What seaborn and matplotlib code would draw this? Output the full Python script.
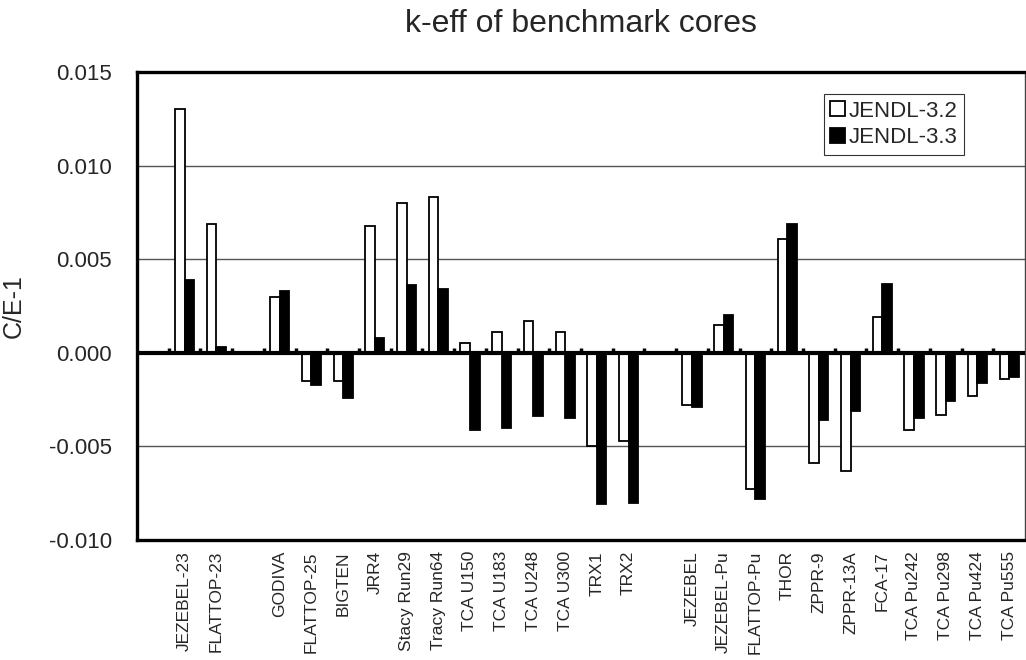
import numpy as np
import pandas as pd
import matplotlib
matplotlib.use("Agg")
import matplotlib.pyplot as plt
import seaborn as sns

# ---------------- data ----------------
group_a = ["JEZEBEL-23", "FLATTOP-23"]
group_b = ["GODIVA", "FLATTOP-25", "BIGTEN", "JRR4", "Stacy Run29", "Tracy Run64",
           "TCA U150", "TCA U183", "TCA U248", "TCA U300", "TRX1", "TRX2"]
group_c = ["JEZEBEL", "JEZEBEL-Pu", "FLATTOP-Pu", "THOR", "ZPPR-9", "ZPPR-13A",
           "FCA-17", "TCA Pu242", "TCA Pu298", "TCA Pu424", "TCA Pu555"]

jendl32 = [0.0130, 0.0069,
           0.0030, -0.0015, -0.0015, 0.0068, 0.0080, 0.0083,
           0.0005, 0.0011, 0.0017, 0.0011, -0.0050, -0.0047,
           -0.0028, 0.0015, -0.0073, 0.0061, -0.0059, -0.0063,
           0.0019, -0.0041, -0.0033, -0.0023, -0.0014]
jendl33 = [0.0039, 0.0003,
           0.0033, -0.0017, -0.0024, 0.0008, 0.0036, 0.0034,
           -0.0041, -0.0040, -0.0034, -0.0035, -0.0081, -0.0080,
           -0.0029, 0.0020, -0.0078, 0.0069, -0.0036, -0.0031,
           0.0037, -0.0035, -0.0026, -0.0016, -0.0013]
series_names = ["JENDL-3.2", "JENDL-3.3"]
y_ticks = [-0.010, -0.005, 0.000, 0.005, 0.010, 0.015]

# category order with blank separator slots
order = [" "] + group_a + ["  "] + group_b + ["   "] + group_c
cores = group_a + group_b + group_c

df = pd.DataFrame({
    "core": cores * 2,
    "value": jendl32 + jendl33,
    "lib": [series_names[0]] * len(cores) + [series_names[1]] * len(cores),
})

# ---------------- style ----------------
sns.set_theme(style="white")
plt.rcParams["font.family"] = ["Liberation Sans", "DejaVu Sans"]
plt.rcParams["axes.unicode_minus"] = False

fig = plt.figure(figsize=(10.26, 6.6), dpi=100)
ax = fig.add_axes([137 / 1026, 1 - 540 / 660, 888 / 1026, 468 / 660])

sns.barplot(data=df, x="core", y="value", hue="lib", order=order,
            hue_order=series_names,
            palette={series_names[0]: "white", series_names[1]: "black"},
            edgecolor="black", linewidth=1.3, width=0.6, errorbar=None,
            saturation=1, ax=ax, zorder=3)

# gridlines
for t in y_ticks[1:-1]:
    if t != 0:
        ax.axhline(t, color="#555555", lw=1.0, zorder=1)
ax.axhline(0, color="black", lw=3, zorder=4)

# category tick marks along the zero line
bounds = np.arange(len(order) - 1) + 0.5
ax.vlines(bounds, 0, 0.00028, color="black", lw=2.5, zorder=4)

ax.set_xlim(-0.5, len(order) - 0.5)
ax.set_ylim(y_ticks[0], y_ticks[-1])
ax.set_yticks(y_ticks)
ax.set_yticklabels([f"{t:.3f}" for t in y_ticks], fontsize=16)
ax.tick_params(axis="y", length=0, pad=18)
ax.tick_params(axis="x", length=0, pad=8)
ax.set_xticks(range(len(order)))
ax.set_xticklabels(order, rotation=90, fontsize=12.5, va="top", ha="center")
ax.set_xlabel("")
ax.set_ylabel("C/E-1", fontsize=18)
ax.yaxis.set_label_coords((26 - 137) / 888, 0.5)

for side in ["left", "top", "bottom"]:
    ax.spines[side].set_color("black")
    ax.spines[side].set_linewidth(2.4)
ax.spines["right"].set_color("#444444")
ax.spines["right"].set_linewidth(1.0)

leg = ax.legend(loc="upper right", bbox_to_anchor=(0.931, 0.953), fontsize=16,
                frameon=True, fancybox=False, edgecolor="black",
                handlelength=0.65, handleheight=0.65, handletextpad=0.15,
                labelspacing=0.25, borderpad=0.3, borderaxespad=0)
leg.get_frame().set_linewidth(0.8)
leg.set_title(None)

ax.text(0.5, (540 - 32) / 468, "k-eff of benchmark cores", transform=ax.transAxes,
        ha="center", va="baseline", fontsize=23)

fig.savefig("out.png", dpi=100)
